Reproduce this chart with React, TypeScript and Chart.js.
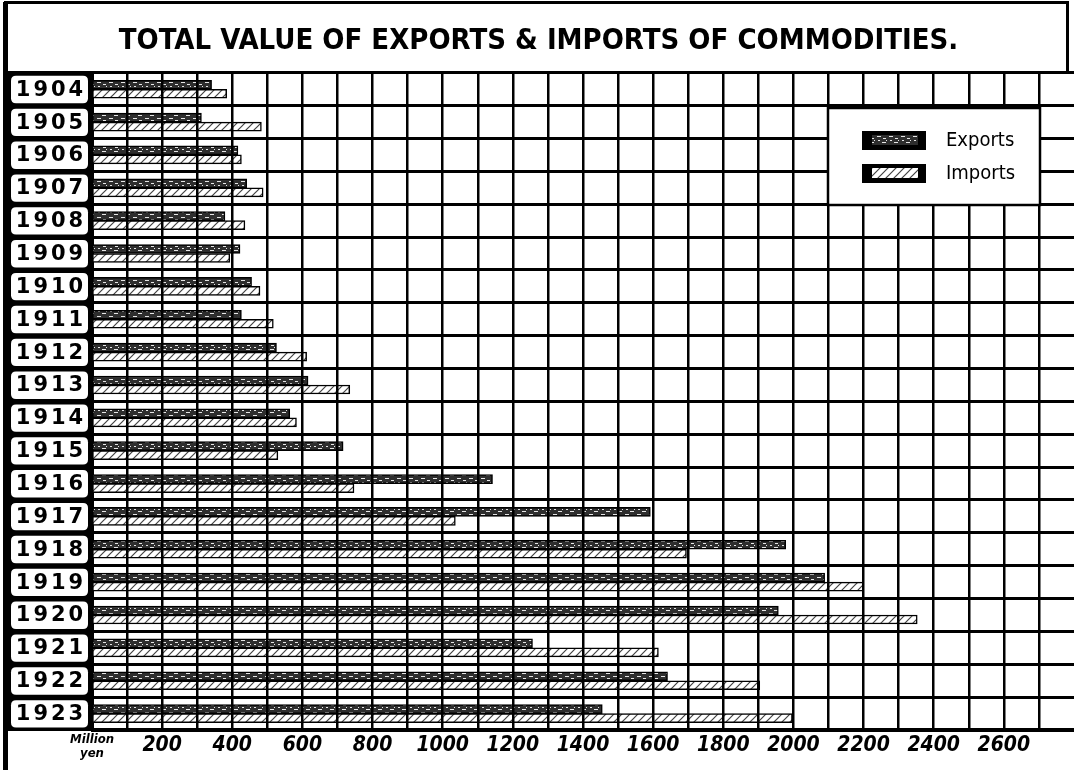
import React, { useEffect, useRef } from 'react';
import { Chart, registerables } from 'chart.js';

Chart.register(...registerables);

// ---------- data ----------
const years = ['1904', '1905', '1906', '1907', '1908', '1909', '1910', '1911', '1912', '1913',
  '1914', '1915', '1916', '1917', '1918', '1919', '1920', '1921', '1922', '1923'];
const exportsValues = [341, 312, 416, 441, 379, 422, 455, 426, 526, 616,
  564, 716, 1142, 1592, 1978, 2089, 1957, 1256, 1641, 1455];
const importsValues = [384, 483, 426, 488, 436, 393, 479, 517, 612, 735,
  583, 530, 747, 1036, 1695, 2200, 2353, 1615, 1904, 1997];
const seriesNames = ['Exports', 'Imports'];
const axisMax = 2800;
const gridStep = 100;
const labelStep = 200;
const lastLabel = 2600;
const unitLines = ['Million', 'yen'];
const titleText = 'TOTAL VALUE OF EXPORTS & IMPORTS OF COMMODITIES.';

const COND = '"DejaVu Sans Condensed", "Liberation Sans Narrow", "DejaVu Sans", sans-serif';

const CANVAS_W = 1077;
const CANVAS_H = 770;

function makeExportsPattern(): CanvasPattern | string {
  const c = document.createElement('canvas');
  c.width = 12; c.height = 9;
  const g = c.getContext('2d');
  if (!g) return '#444';
  g.fillStyle = '#2e2e2e';
  g.fillRect(0, 0, 12, 9);
  g.fillStyle = '#e6e6e6';
  g.fillRect(1, 1, 4, 1);
  g.fillRect(7, 3, 3, 1);
  g.fillRect(2, 5, 2, 1);
  g.fillRect(6, 7, 4, 1);
  g.fillRect(10, 5, 1, 1);
  return g.createPattern(c, 'repeat') || '#444';
}

function makeImportsPattern(): CanvasPattern | string {
  const c = document.createElement('canvas');
  c.width = 8; c.height = 8;
  const g = c.getContext('2d');
  if (!g) return '#ccc';
  g.fillStyle = '#ffffff';
  g.fillRect(0, 0, 8, 8);
  g.strokeStyle = '#444';
  g.lineWidth = 1.2;
  g.beginPath();
  g.moveTo(-1, 1); g.lineTo(1, -1);
  g.moveTo(0, 8); g.lineTo(8, 0);
  g.moveTo(7, 9); g.lineTo(9, 7);
  g.stroke();
  return g.createPattern(c, 'repeat') || '#ccc';
}

function roundRectPath(ctx: CanvasRenderingContext2D, x: number, y: number, w: number, h: number, r: number) {
  ctx.beginPath();
  ctx.moveTo(x + r, y);
  ctx.lineTo(x + w - r, y);
  ctx.quadraticCurveTo(x + w, y, x + w, y + r);
  ctx.lineTo(x + w, y + h - r);
  ctx.quadraticCurveTo(x + w, y + h, x + w - r, y + h);
  ctx.lineTo(x + r, y + h);
  ctx.quadraticCurveTo(x, y + h, x, y + h - r);
  ctx.lineTo(x, y + r);
  ctx.quadraticCurveTo(x, y, x + r, y);
  ctx.closePath();
}

const isMultiple = (v: number, step: number) => Math.abs(v / step - Math.round(v / step)) < 1e-6;

const framePlugin = {
  id: 'scanFrame',
  beforeDraw(chart: any) {
    const { ctx, chartArea } = chart;
    const y = chart.scales.y;
    ctx.save();
    ctx.fillStyle = '#ffffff';
    ctx.fillRect(0, 0, chart.width, chart.height);
    // title box
    ctx.strokeStyle = '#000';
    ctx.lineWidth = 3;
    ctx.strokeRect(5.5, 2.5, 1062, 70);
    // left frame line
    ctx.fillStyle = '#000';
    ctx.fillRect(3, 2, 5, chart.height - 2);
    // label column (black) with white rounded boxes
    ctx.fillRect(3, chartArea.top - 1, chartArea.left - 3, chartArea.bottom - chartArea.top + 2);
    const half = (y.getPixelForValue(1) - y.getPixelForValue(0)) / 2;
    ctx.fillStyle = '#fff';
    years.forEach((_, i) => {
      const cy = y.getPixelForValue(i);
      roundRectPath(ctx, 11, cy - half + 3, chartArea.left - 15, 2 * half - 5.5, 5);
      ctx.fill();
    });
    ctx.restore();
  },
  afterDraw(chart: any) {
    const { ctx } = chart;
    const y = chart.scales.y;
    ctx.save();
    // year labels
    ctx.fillStyle = '#000';
    ctx.font = 'bold 21px "DejaVu Sans", sans-serif';
    (ctx as any).letterSpacing = '3px';
    ctx.textAlign = 'center';
    ctx.textBaseline = 'middle';
    years.forEach((label, i) => {
      ctx.fillText(label, 51, y.getPixelForValue(i) + 1);
    });
    (ctx as any).letterSpacing = '0px';

    // legend box
    const bx = 828, by = 108, bw = 212, bh = 97;
    ctx.fillStyle = '#fff';
    ctx.fillRect(bx, by, bw, bh);
    ctx.strokeStyle = '#000';
    ctx.lineWidth = 2.5;
    ctx.strokeRect(bx, by, bw, bh);
    const rowsY = [140, 173];
    chart.data.datasets.forEach((ds: any, i: number) => {
      const cy = rowsY[i];
      ctx.fillStyle = '#000';
      ctx.fillRect(862, cy - 9, 64, 19);
      ctx.fillStyle = ds.backgroundColor;
      ctx.fillRect(872, cy - 5, 46, 10);
      ctx.fillStyle = '#000';
      ctx.font = '20px ' + COND;
      ctx.textAlign = 'left';
      ctx.textBaseline = 'middle';
      ctx.fillText(ds.label, 946, cy + 1);
    });
    ctx.restore();
  },
};

export default function App() {
  const canvasRef = useRef<HTMLCanvasElement | null>(null);

  useEffect(() => {
    const canvas = canvasRef.current;
    if (!canvas) return;
    const chart = new Chart(canvas, {
      type: 'bar',
      data: {
        labels: years,
        datasets: [
          {
            label: seriesNames[0],
            data: exportsValues,
            backgroundColor: makeExportsPattern() as any,
            borderColor: '#000',
            borderWidth: 1.5,
            barThickness: 9,
            categoryPercentage: 0.67,
          },
          {
            label: seriesNames[1],
            data: importsValues,
            backgroundColor: makeImportsPattern() as any,
            borderColor: '#000',
            borderWidth: 1.5,
            barThickness: 9,
            categoryPercentage: 0.67,
          },
        ],
      },
      options: {
        indexAxis: 'y',
        responsive: false,
        animation: false,
        devicePixelRatio: 1,
        layout: { padding: 0 },
        plugins: {
          legend: { display: false },
          tooltip: { enabled: false },
          title: {
            display: true,
            text: titleText,
            color: '#000',
            font: { family: COND, size: 29, weight: 'bold' },
            padding: { top: 24, bottom: 14 },
          },
        },
        scales: {
          x: {
            type: 'linear',
            min: 0,
            max: axisMax,
            grid: {
              color: (c: any) =>
                c.tick && isMultiple(c.tick.value, gridStep) && c.tick.value < axisMax - 1
                  ? '#000'
                  : 'rgba(0,0,0,0)',
              lineWidth: 2.5,
              drawTicks: false,
              z: 1,
            },
            border: { display: true, color: '#000', width: 3, z: 1 },
            ticks: {
              stepSize: gridStep,
              autoSkip: false,
              maxRotation: 0,
              padding: 3,
              color: '#000',
              callback: (v: any) => {
                const n = Number(v);
                if (Math.abs(n) < 1e-6) return unitLines;
                if (isMultiple(n, labelStep) && n <= lastLabel + 1) return String(Math.round(n));
                return '';
              },
              font: (c: any) =>
                c.tick && Math.abs(c.tick.value) < 1e-6
                  ? { family: COND, size: 13, weight: 'bold', style: 'italic', lineHeight: 1.05 }
                  : { family: COND, size: 21, weight: 'bold', style: 'italic' },
            },
            afterFit: (s: any) => { s.height = 40; },
          },
          y: {
            type: 'category',
            grid: { color: '#000', lineWidth: 3, drawTicks: false, offset: true },
            border: { display: true, color: '#000', width: 3 },
            ticks: { display: false },
            afterFit: (s: any) => { s.width = 92; },
          },
        },
      } as any,
      plugins: [framePlugin],
    });
    return () => chart.destroy();
  }, []);

  return (
    <div style={{ position: 'fixed', left: 0, top: 0, width: 1074, height: 770, overflow: 'hidden', background: '#fff' }}>
      <canvas
        ref={canvasRef}
        width={CANVAS_W}
        height={CANVAS_H}
        style={{ width: CANVAS_W, height: CANVAS_H, display: 'block' }}
      />
    </div>
  );
}
